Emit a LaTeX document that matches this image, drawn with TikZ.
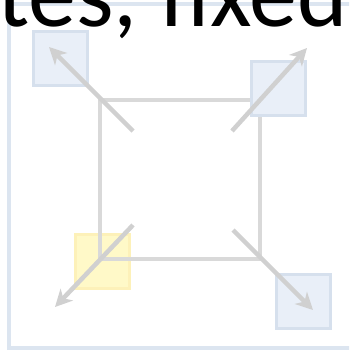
\documentclass[tikz,border=0pt]{standalone}
\usepackage{fontspec}
\setmainfont{Carlito}
\usepackage{xcolor}
\usepackage{tikz}
\usetikzlibrary{arrows.meta}
\definecolor{framecol}{RGB}{220,229,240}
\definecolor{cornerblue}{RGB}{233,239,248}
\definecolor{cornerline}{RGB}{214,224,237}
\definecolor{corneryellow}{RGB}{255,249,200}
\definecolor{yellowline}{RGB}{253,241,185}
\definecolor{boxgray}{RGB}{217,217,217}
\definecolor{arrowgray}{RGB}{208,208,208}
\tikzset{
  cornerbox/.style={
    rectangle,
    draw=cornerline,
    fill=cornerblue,
    line width=3pt,
    minimum size=54pt,
    inner sep=0pt
  },
  yellowbox/.style={
    cornerbox,
    draw=yellowline,
    fill=corneryellow
  },
  bigbox/.style={
    rectangle,
    draw=boxgray,
    line width=4pt,
    minimum width=160pt,
    minimum height=159pt,
    inner sep=0pt
  },
  moveline/.style={
    -{Stealth[length=17pt,width=17pt,inset=5pt]},
    line width=4.5pt,
    draw=arrowgray
  }
}

\begin{document}
\begin{tikzpicture}[x=1pt,y=-1pt]
\useasboundingbox (0,0) rectangle (349,356);
\clip (0,0) rectangle (349,356);
% outer frame
\draw[framecol, line width=4pt] (9,4) rectangle (380,348);
\node[anchor=base west, inner sep=0pt, font=\fontsize{96}{96}\selectfont] (title) at (-3,26) {tes, fixed};

% squares
\node[yellowbox] (bl) at (102.5,261.5) {};
\node[bigbox] (square) at (180,179.5) {};
\node[cornerbox] (tl) at (60,58.5) {};
\node[cornerbox] (tr) at (278.5,88.5) {};
\node[cornerbox] (br) at (303.5,301) {};

% arrows
\coordinate (tl-in) at (133,131);
\coordinate (tl-out) at (49,47);
\coordinate (tr-in) at (232,131);
\coordinate (tr-out) at (307,48);
\coordinate (bl-in) at (133,225);
\coordinate (bl-out) at (55,307);
\coordinate (br-in) at (233,230);
\coordinate (br-out) at (313,310);
\draw[moveline] (tl-in) -- (tl-out);
\draw[moveline] (tr-in) -- (tr-out);
\draw[moveline] (bl-in) -- (bl-out);
\draw[moveline] (br-in) -- (br-out);
\end{tikzpicture}
\end{document}
